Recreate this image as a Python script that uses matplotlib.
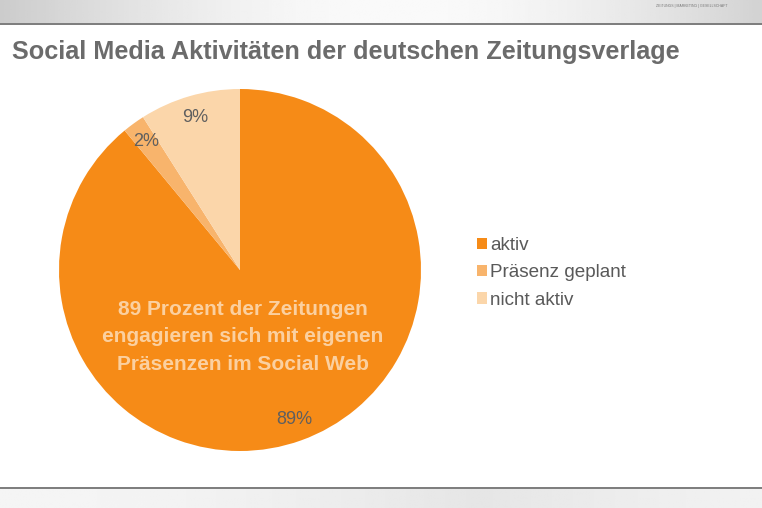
import matplotlib
matplotlib.use("Agg")
import matplotlib.pyplot as plt
import numpy as np
from matplotlib.patches import Rectangle

categories = ["aktiv", "Präsenz geplant", "nicht aktiv"]
values = [89, 2, 9]
colors = ["#F68B17", "#F8B46C", "#FBD6AA"]
title = "Social Media Aktivitäten der deutschen Zeitungsverlage"
center_text = "89 Prozent der Zeitungen\nengagieren sich mit eigenen\nPräsenzen im Social Web"

plt.rcParams['font.family'] = ['Liberation Sans', 'DejaVu Sans']

W, H = 762, 508
fig = plt.figure(figsize=(W/100, H/100), dpi=100)
fig.patch.set_facecolor("white")

# top band with gradient
grad = np.linspace(0, 1, 256)[None, :]
bg_ax = fig.add_axes([0, 1 - 23/H, 1, 23/H])
bg_ax.imshow(0.80 + 0.18*np.abs(np.sin(grad*3.0)), aspect='auto', cmap='gray', vmin=0, vmax=1, extent=[0, 1, 0, 1])
bg_ax.axis('off')
fig.add_artist(Rectangle((0, 1 - 25/H), 1, 2/H, transform=fig.transFigure, color="#7f7f7f", lw=0))
# bottom band
bt_ax = fig.add_axes([0, 0, 1, 19/H])
bt_ax.imshow(0.90 + 0.06*np.abs(np.cos(grad*2.5)), aspect='auto', cmap='gray', vmin=0, vmax=1, extent=[0, 1, 0, 1])
bt_ax.axis('off')
fig.add_artist(Rectangle((0, 19/H), 1, 2/H, transform=fig.transFigure, color="#7f7f7f", lw=0))
fig.text(1 - 70/W, 1 - 6/H, "ZEITUNGS | MARKETING | GESELLSCHAFT", fontsize=2.5, color="#777777", ha='center', va='center')

fig.text(12/W, 1 - 52/H, title, fontsize=18.2, fontweight='bold', color="#6b6b6b", ha='left', va='center')

cx, cy, r = 240, 270, 181
ax = fig.add_axes([(cx - r)/W, (H - cy - r)/H, 2*r/W, 2*r/H])
wedges, texts, autotexts = ax.pie(values, colors=colors, startangle=90, counterclock=False,
                                  autopct='%d%%', pctdistance=0.88, radius=1,
                                  wedgeprops=dict(linewidth=0),
                                  textprops=dict(fontsize=13, color="#5f5f5f"))
ax.set_xlim(-1, 1)
ax.set_ylim(-1, 1)
ax.set_aspect('equal')
ax.axis('off')

fig.text(cx/W + 3/W, 1 - 337/H, center_text, fontsize=15, fontweight='bold', color="#FBD0A0",
         ha='center', va='center', linespacing=1.55)

leg = fig.legend(wedges, categories, loc='upper left', bbox_to_anchor=(460/W, 1 - 220/H),
                 frameon=False, fontsize=13.6, handlelength=0.55, handleheight=0.55, handletextpad=0.15,
                 labelspacing=0.55, labelcolor="#595959")

fig.savefig("out.png", dpi=100, facecolor="white")
